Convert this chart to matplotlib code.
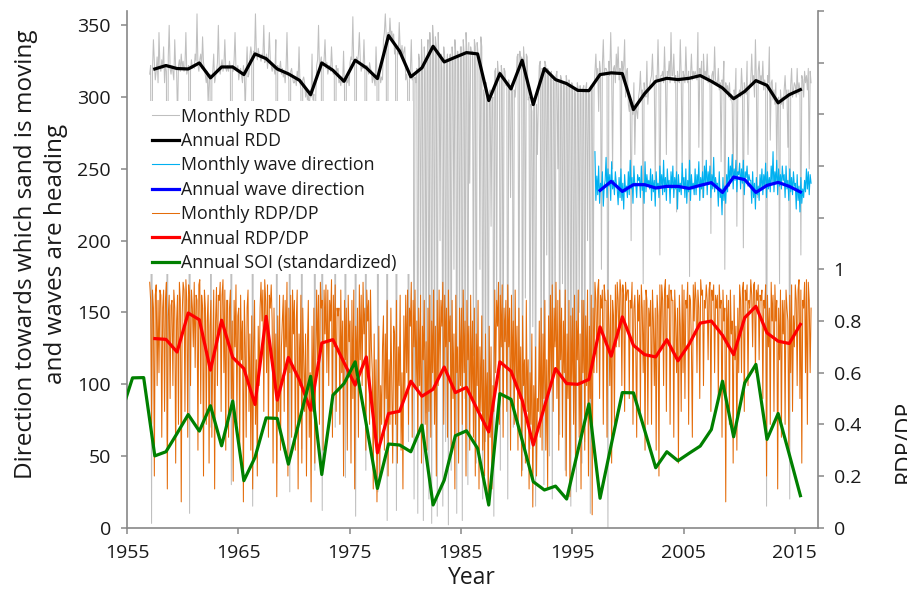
import numpy as np
import matplotlib
matplotlib.use('Agg')
import matplotlib.pyplot as plt
from matplotlib.patches import Rectangle
from matplotlib.ticker import FixedLocator, FixedFormatter

plt.rcParams['font.family'] = ['Open Sans', 'DejaVu Sans']

# ---- annual series ----
rdd_years = list(range(1957, 2016))
rdd_annual = [319.6, 322.0, 319.9, 319.6, 323.8, 313.4, 321.0, 321.0, 315.7, 330.1,
              326.8, 319.6, 316.2, 311.7, 301.7, 323.8, 318.7, 311.0, 325.7, 320.4,
              312.9, 342.9, 331.9, 314.1, 320.4, 335.4, 324.5, 327.8, 331.0, 330.1,
              297.6, 316.4, 305.7, 325.7, 294.8, 319.9, 312.2, 309.4, 304.7, 304.5,
              315.7, 316.9, 316.4, 291.3, 302.4, 311.0, 313.1, 312.2, 313.1, 315.0,
              311.0, 306.4, 298.9, 304.0, 311.5, 308.2, 296.0, 301.7, 305.2]

wave_years = list(range(1997, 2016))
wave_annual = [235.0, 241.3, 234.3, 239.0, 239.0, 236.7, 237.8, 237.8, 236.4, 238.5,
               240.4, 233.6, 244.3, 242.5, 233.6, 238.5, 240.6, 237.8, 233.9]

rdp_years = list(range(1957, 2016))
rdp_annual = [0.732, 0.729, 0.680, 0.831, 0.805, 0.610, 0.803, 0.659, 0.616, 0.477,
              0.818, 0.494, 0.659, 0.571, 0.455, 0.715, 0.728, 0.639, 0.552, 0.661,
              0.290, 0.442, 0.451, 0.567, 0.509, 0.536, 0.622, 0.523, 0.543, 0.455,
              0.371, 0.642, 0.606, 0.494, 0.320, 0.468, 0.616, 0.558, 0.555, 0.574,
              0.777, 0.664, 0.816, 0.706, 0.670, 0.661, 0.728, 0.646, 0.710, 0.792,
              0.800, 0.745, 0.670, 0.813, 0.857, 0.754, 0.722, 0.713, 0.787]

soi_years = list(range(1954, 2016))
soi_annual = [0.446, 0.580, 0.581, 0.278, 0.294, 0.365, 0.438, 0.374, 0.472, 0.317,
              0.490, 0.182, 0.272, 0.425, 0.423, 0.246, 0.416, 0.586, 0.206, 0.513,
              0.558, 0.642, 0.400, 0.152, 0.324, 0.320, 0.294, 0.397, 0.088, 0.184,
              0.356, 0.375, 0.307, 0.088, 0.519, 0.497, 0.339, 0.178, 0.146, 0.161,
              0.111, 0.296, 0.479, 0.114, 0.320, 0.523, 0.522, 0.378, 0.232, 0.294,
              0.259, 0.288, 0.316, 0.380, 0.567, 0.352, 0.561, 0.632, 0.342, 0.442,
              0.284, 0.124]

# ---- monthly series, Jan 1957 .. Jun 2016 ----
rdd_monthly_start = 1957
rdd_monthly = [
    316, 322, 3, 318, 340, 325, 312, 318, 328, 310, 345, 322,
    318, 326, 320, 335, 310, 322, 318, 60, 328, 350, 320, 316,
    322, 318, 312, 340, 320, 318, 285, 322, 326, 318, 330, 320,
    325, 318, 322, 345, 316, 320, 322, 10, 318, 326, 320, 322,
    320, 330, 325, 358, 322, 318, 326, 330, 320, 342, 324, 320,
    315, 310, 318, 296, 312, 316, 70, 312, 318, 330, 310, 314,
    318, 324, 350, 320, 316, 322, 326, 318, 322, 340, 320, 318,
    322, 318, 325, 320, 30, 322, 318, 326, 345, 320, 318, 322,
    312, 318, 320, 315, 310, 322, 316, 290, 318, 335, 314, 316,
    328, 335, 330, 15, 332, 328, 358, 330, 326, 334, 330, 328,
    325, 330, 328, 350, 324, 326, 330, 320, 328, 345, 326, 322,
    318, 322, 320, 316, 340, 45, 322, 318, 320, 325, 316, 320,
    314, 318, 310, 320, 345, 316, 312, 25, 318, 320, 314, 310,
    310, 314, 308, 318, 312, 335, 310, 306, 55, 312, 314, 310,
    300, 305, 298, 302, 290, 305, 300, 330, 298, 302, 40, 300,
    322, 326, 350, 320, 324, 328, 12, 322, 326, 340, 320, 324,
    316, 320, 322, 318, 335, 320, 316, 318, 70, 322, 318, 320,
    310, 312, 308, 314, 310, 332, 306, 35, 312, 310, 314, 308,
    324, 328, 326, 356, 322, 326, 8, 328, 324, 330, 345, 326,
    318, 322, 320, 340, 318, 40, 322, 320, 316, 324, 320, 318,
    310, 316, 312, 308, 335, 314, 25, 312, 316, 310, 314, 312,
    340, 345, 358, 342, 5, 345, 340, 355, 342, 346, 340, 344,
    330, 335, 12, 332, 330, 352, 334, 330, 336, 328, 332, 335,
    312, 316, 310, 60, 314, 318, 340, 312, 316, 20, 314, 310,
    320, 10, 330, 325, 150, 340, 320, 5, 335, 318, 80, 325,
    340, 20, 345, 330, 3, 350, 338, 110, 342, 335, 8, 345,
    325, 200, 330, 320, 15, 335, 328, 60, 322, 330, 2, 325,
    330, 40, 335, 325, 180, 340, 330, 10, 332, 325, 120, 335,
    335, 5, 340, 330, 90, 345, 332, 30, 338, 240, 335, 330,
    332, 120, 340, 335, 45, 338, 330, 325, 180, 342, 335, 20,
    305, 300, 60, 310, 295, 15, 300, 305, 210, 298, 300, 8,
    318, 320, 150, 325, 315, 318, 40, 322, 316, 90, 320, 318,
    308, 310, 20, 312, 305, 230, 308, 310, 70, 305, 300, 310,
    328, 330, 110, 332, 325, 328, 40, 335, 325, 160, 330, 328,
    298, 300, 55, 295, 290, 140, 298, 300, 15, 295, 260, 300,
    322, 325, 90, 320, 318, 30, 325, 322, 190, 320, 318, 50,
    315, 318, 20, 312, 310, 130, 315, 318, 250, 312, 65, 315,
    312, 170, 310, 308, 40, 315, 310, 100, 312, 308, 15, 310,
    308, 80, 306, 302, 25, 310, 305, 150, 308, 302, 45, 306,
    308, 60, 306, 310, 200, 305, 302, 10, 308, 306, 120, 305,
    318, 330, 312, 320, 290, 325, 318, 180, 322, 340, 315, 320,
    320, 318, 0, 325, 315, 345, 318, 250, 320, 322, 310, 330,
    318, 335, 312, 320, 230, 325, 316, 322, 340, 300, 318, 320,
    295, 290, 300, 200, 292, 288, 310, 260, 295, 290, 285, 300,
    305, 318, 300, 305, 170, 310, 302, 300, 325, 295, 305, 308,
    312, 315, 330, 310, 308, 240, 315, 312, 340, 310, 190, 315,
    315, 318, 310, 335, 312, 260, 318, 315, 325, 310, 345, 315,
    315, 330, 310, 315, 220, 318, 312, 310, 340, 315, 250, 318,
    315, 310, 335, 315, 310, 318, 175, 315, 330, 312, 318, 315,
    318, 315, 312, 345, 265, 320, 315, 325, 230, 330, 315, 318,
    312, 330, 310, 315, 312, 205, 315, 318, 310, 335, 312, 310,
    308, 320, 305, 310, 255, 312, 308, 325, 180, 310, 305, 308,
    300, 310, 298, 302, 295, 240, 305, 300, 320, 210, 300, 302,
    305, 300, 320, 306, 195, 310, 305, 302, 325, 260, 305, 308,
    312, 330, 310, 315, 300, 340, 312, 230, 318, 325, 310, 315,
    310, 325, 305, 312, 308, 15, 315, 310, 335, 270, 310, 312,
    298, 305, 295, 310, 250, 298, 300, 170, 305, 295, 300, 292,
    305, 315, 300, 305, 265, 305, 20, 308, 320, 300, 305, 310,
    308, 300, 320, 302, 310, 305, 190, 315, 312, 300, 318, 310,
    315, 305, 320, 250, 318, 310,
]

# RDP/DP monthly in percent
rdp_monthly_start = 1957
rdp_monthly_pct = [
    95, 88, 40, 92, 85, 20, 90, 94, 55, 88, 60, 92,
    90, 35, 85, 92, 45, 88, 95, 15, 82, 90, 50, 86,
    88, 55, 92, 85, 25, 80, 90, 40, 95, 88, 10, 82,
    95, 92, 45, 96, 88, 35, 94, 90, 55, 92, 85, 70,
    95, 62, 90, 88, 30, 94, 96, 48, 90, 85, 20, 92,
    85, 40, 80, 90, 25, 78, 88, 35, 70, 92, 15, 80,
    93, 55, 90, 88, 95, 45, 90, 96, 60, 92, 30, 88,
    88, 35, 85, 92, 50, 80, 18, 88, 70, 94, 40, 82,
    85, 28, 90, 65, 80, 10, 88, 70, 35, 85, 92, 45,
    75, 30, 82, 15, 70, 88, 40, 65, 20, 78, 55, 85,
    95, 80, 92, 45, 96, 88, 60, 94, 35, 90, 85, 94,
    80, 25, 85, 55, 75, 12, 82, 45, 90, 30, 70, 80,
    90, 45, 88, 70, 95, 20, 85, 60, 90, 35, 92, 75,
    88, 30, 80, 92, 15, 75, 55, 90, 25, 85, 65, 45,
    75, 20, 70, 88, 35, 60, 10, 78, 45, 85, 25, 65,
    92, 65, 90, 40, 95, 85, 88, 30, 92, 75, 94, 60,
    92, 55, 88, 80, 96, 35, 90, 70, 94, 45, 85, 82,
    85, 40, 92, 60, 80, 20, 88, 65, 85, 30, 90, 72,
    80, 25, 88, 50, 92, 15, 78, 60, 85, 35, 94, 65,
    90, 55, 95, 75, 85, 30, 92, 80, 88, 40, 92, 70,
    60, 15, 75, 35, 65, 10, 50, 78, 20, 55, 40, 70,
    82, 30, 75, 50, 88, 20, 65, 40, 85, 55, 25, 78,
    75, 40, 88, 25, 70, 55, 90, 30, 60, 15, 82, 50,
    90, 60, 92, 40, 85, 78, 95, 35, 88, 70, 92, 55,
    80, 35, 85, 55, 90, 25, 78, 65, 88, 40, 72, 30,
    85, 45, 90, 35, 80, 60, 92, 40, 78, 20, 88, 55,
    92, 60, 88, 78, 95, 40, 90, 70, 85, 35, 92, 72,
    82, 30, 88, 50, 75, 15, 90, 60, 70, 25, 85, 55,
    85, 40, 92, 60, 80, 20, 88, 65, 78, 30, 90, 50,
    80, 35, 85, 20, 75, 55, 88, 15, 70, 45, 82, 30,
    65, 20, 75, 40, 60, 10, 78, 35, 70, 15, 55, 45,
    92, 60, 88, 78, 95, 40, 90, 70, 94, 35, 85, 72,
    88, 45, 94, 70, 85, 30, 90, 60, 80, 40, 92, 55,
    78, 30, 85, 50, 70, 20, 82, 55, 65, 25, 88, 45,
    65, 15, 60, 40, 75, 8, 55, 35, 70, 20, 50, 45,
    80, 35, 85, 30, 75, 50, 88, 30, 65, 15, 82, 55,
    90, 55, 94, 45, 85, 70, 95, 50, 88, 30, 92, 65,
    85, 35, 80, 60, 92, 20, 75, 50, 88, 12, 82, 55,
    85, 40, 90, 25, 80, 65, 92, 35, 75, 15, 88, 60,
    88, 30, 82, 55, 92, 20, 78, 50, 90, 5, 85, 60,
    95, 88, 60, 92, 96, 50, 90, 85, 92, 40, 94, 88,
    88, 35, 92, 80, 55, 90, 25, 88, 82, 40, 94, 70,
    95, 88, 70, 96, 92, 55, 94, 90, 45, 95, 88, 92,
    92, 50, 88, 85, 95, 40, 85, 90, 70, 35, 92, 80,
    90, 45, 94, 85, 60, 88, 30, 92, 88, 40, 85, 78,
    88, 40, 92, 80, 55, 85, 30, 90, 82, 20, 94, 70,
    94, 88, 55, 92, 96, 45, 90, 85, 94, 40, 92, 88,
    88, 35, 92, 80, 60, 85, 25, 90, 78, 45, 94, 60,
    92, 50, 88, 85, 95, 40, 90, 88, 70, 35, 94, 80,
    95, 88, 60, 92, 85, 50, 96, 90, 92, 55, 88, 85,
    94, 88, 65, 92, 95, 45, 92, 88, 94, 60, 90, 85,
    90, 50, 94, 85, 88, 35, 92, 80, 85, 10, 90, 70,
    88, 40, 92, 75, 80, 25, 90, 65, 78, 30, 85, 60,
    94, 88, 60, 92, 95, 45, 92, 88, 94, 55, 88, 85,
    96, 90, 70, 94, 95, 60, 92, 88, 94, 65, 90, 88,
    92, 50, 88, 85, 94, 20, 90, 70, 85, 40, 95, 80,
    90, 45, 94, 80, 88, 15, 85, 65, 92, 35, 88, 75,
    88, 40, 92, 85, 80, 30, 90, 60, 94, 45, 82, 70,
    94, 88, 55, 92, 96, 50, 92, 25, 88, 85, 95, 60,
    96, 40, 95, 88, 60, 85,
]

# wave direction monthly, Jan 1997 .. Jun 2016
wave_monthly_start = 1997
wave_monthly = [
    262, 228, 245, 232, 252, 226, 240, 235, 248, 224, 238, 242,
    258, 230, 250, 238, 246, 228, 255, 236, 242, 232, 248, 240,
    236, 225, 244, 230, 250, 228, 240, 222, 246, 234, 238, 230,
    248, 232, 256, 236, 244, 226, 252, 238, 240, 230, 246, 242,
    244, 230, 252, 235, 240, 226, 255, 234, 246, 238, 242, 236,
    250, 228, 246, 234, 242, 224, 248, 236, 240, 230, 252, 238,
    246, 232, 256, 234, 244, 228, 250, 238, 242, 226, 248, 236,
    252, 230, 244, 236, 248, 222, 246, 234, 240, 232, 254, 238,
    244, 230, 250, 226, 242, 234, 256, 228, 246, 236, 240, 232,
    250, 232, 246, 238, 255, 228, 244, 236, 248, 230, 252, 240,
    256, 232, 248, 240, 252, 230, 246, 236, 258, 234, 244, 238,
    240, 224, 248, 230, 236, 218, 244, 228, 238, 226, 246, 234,
    258, 238, 252, 244, 260, 236, 250, 242, 256, 234, 248, 246,
    254, 236, 250, 240, 256, 232, 248, 244, 252, 238, 246, 242,
    242, 226, 248, 230, 240, 222, 244, 232, 238, 228, 246, 236,
    250, 232, 246, 238, 254, 230, 248, 236, 244, 234, 252, 240,
    262, 234, 248, 240, 256, 232, 250, 238, 246, 236, 252, 242,
    246, 230, 252, 236, 242, 228, 250, 234, 244, 232, 248, 238,
    240, 222, 246, 228, 238, 220, 244, 226, 236, 230, 242, 234,
    250, 236, 248, 232, 246, 240,
]


def month_x(start, n):
    return start + (np.arange(n) + 0.5) / 12.0


def year_x(years):
    return np.array(years) + 0.5


spine_col = '#888888'
text_col = '#1a1a1a'

fig = plt.figure(figsize=(9.07, 5.94), dpi=100)
ax = fig.add_axes([0.1400, 0.1116, 0.7615, 0.8699])
ax2 = ax.twinx()

# left axis: directions
l1, = ax.plot(month_x(rdd_monthly_start, len(rdd_monthly)), rdd_monthly,
              color='#bfbfbf', lw=0.75)
l2, = ax.plot(year_x(rdd_years), rdd_annual, color='black', lw=2.3)
l3, = ax.plot(month_x(wave_monthly_start, len(wave_monthly)), wave_monthly,
              color='#00b0f0', lw=0.8)
l4, = ax.plot(year_x(wave_years), wave_annual, color='#0000ff', lw=2.3)

# right axis: RDP/DP and SOI
l5, = ax2.plot(month_x(rdp_monthly_start, len(rdp_monthly_pct)),
               np.array(rdp_monthly_pct) / 100.0, color='#e46c0a', lw=0.75)
l6, = ax2.plot(year_x(rdp_years), rdp_annual, color='#ff0000', lw=2.3)
l7, = ax2.plot(year_x(soi_years), soi_annual, color='#008000', lw=2.3)

ax.set_xlim(1955, 2017.05)
ax.set_ylim(0, 360)
ax2.set_ylim(0, 2.0)

ax.set_xticks(range(1955, 2016, 10))
ax.set_yticks(range(0, 351, 50))
r_ticks = [round(0.2 * i, 1) for i in range(11)]
ax2.yaxis.set_major_locator(FixedLocator(r_ticks))
ax2.yaxis.set_major_formatter(FixedFormatter(
    ['0', '0.2', '0.4', '0.6', '0.8', '1', '', '', '', '', '']))

for a in (ax, ax2):
    a.spines['top'].set_visible(False)
    for s in a.spines.values():
        s.set_color(spine_col)
        s.set_linewidth(1.2)
    a.tick_params(direction='out', length=4.5, width=1.1, color=spine_col,
                  labelsize=14, labelcolor=text_col, pad=7)
ax.spines['right'].set_visible(False)
ax2.spines['left'].set_visible(False)
ax2.spines['bottom'].set_visible(False)

# legend with white box
ax2.add_patch(Rectangle((0.033, 0.491), 0.381, 0.335, transform=ax2.transAxes,
                        facecolor='white', edgecolor='none', zorder=4))
leg = ax2.legend([l1, l2, l3, l4, l5, l6, l7],
                 ['Monthly RDD', 'Annual RDD', 'Monthly wave direction',
                  'Annual wave direction', 'Monthly RDP/DP', 'Annual RDP/DP',
                  'Annual SOI (standardized)'],
                 loc='upper left', bbox_to_anchor=(0.036, 0.813),
                 frameon=False, fontsize=12.8, handlelength=1.5,
                 handletextpad=0.12, labelspacing=0.36, borderpad=0,
                 borderaxespad=0)
leg.set_zorder(6)
for t in leg.get_texts():
    t.set_color(text_col)

fig.text(0.0452, 0.572,
         'Direction towards which sand is moving\nand waves are heading',
         rotation=90, ha='center', va='center', multialignment='center',
         fontsize=17.5, color=text_col, linespacing=1.35)
fig.text(0.52, 0.027, 'Year', ha='center', va='center', fontsize=16.5,
         color=text_col)
fig.text(0.9845, 0.257, 'RDP/DP', rotation=90, ha='left', va='center',
         fontsize=16.5, color=text_col)

fig.savefig('out.png', dpi=100)
